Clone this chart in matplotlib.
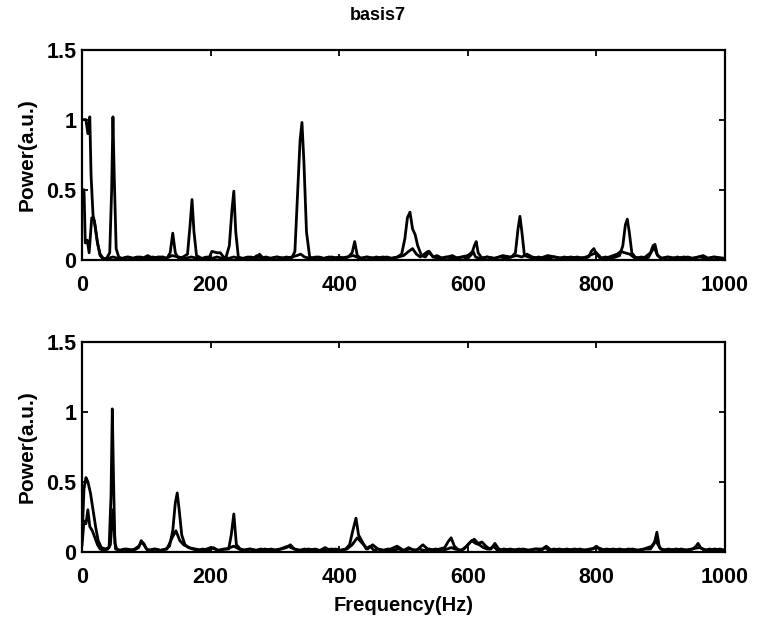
import matplotlib
matplotlib.use("Agg")
import matplotlib.pyplot as plt

# top panel, first spectrum (main peaks)
top_f1 = [0, 6, 9, 12, 14, 17, 20, 24, 28, 33,
          38, 43, 46, 48, 50, 53, 57, 62, 70, 78,
          86, 94, 102, 110, 118, 126, 132, 137, 141, 145,
          150, 157, 164, 168, 171, 174, 178, 186, 194, 202,
          210, 218, 224, 229, 233, 236, 239, 243, 250, 258,
          266, 272, 278, 286, 294, 302, 310, 318, 326, 331,
          335, 339, 342, 345, 349, 354, 360, 368, 376, 384,
          392, 400, 408, 414, 420, 424, 428, 434, 442, 450,
          458, 466, 474, 482, 490, 497, 502, 506, 510, 514,
          518, 522, 528, 534, 540, 546, 552, 560, 568, 576,
          584, 592, 600, 606, 610, 613, 616, 622, 630, 640,
          650, 660, 668, 674, 678, 681, 684, 688, 694, 702,
          710, 718, 726, 734, 742, 750, 760, 770, 780, 788,
          792, 796, 800, 806, 814, 822, 830, 836, 841, 845,
          848, 851, 855, 860, 868, 876, 884, 888, 891, 895,
          902, 910, 918, 926, 934, 942, 950, 958, 966, 974,
          982, 990, 1000]
top_p1 = [1.0, 1.0, 0.9, 1.02, 0.6, 0.32, 0.25, 0.12, 0.04, 0.01,
          0.01, 0.05, 0.5, 1.02, 0.6, 0.08, 0.02, 0.01, 0.02, 0.01,
          0.02, 0.01, 0.03, 0.01, 0.02, 0.02, 0.01, 0.05, 0.19, 0.05,
          0.01, 0.02, 0.04, 0.25, 0.43, 0.2, 0.03, 0.01, 0.02, 0.01,
          0.02, 0.01, 0.02, 0.1, 0.35, 0.49, 0.2, 0.02, 0.01, 0.02,
          0.01, 0.03, 0.01, 0.02, 0.01, 0.02, 0.01, 0.02, 0.01, 0.06,
          0.45, 0.85, 0.98, 0.7, 0.2, 0.02, 0.01, 0.02, 0.01, 0.02,
          0.01, 0.02, 0.01, 0.02, 0.05, 0.13, 0.03, 0.01, 0.02, 0.01,
          0.02, 0.01, 0.02, 0.01, 0.02, 0.04, 0.15, 0.3, 0.34, 0.22,
          0.18, 0.1, 0.03, 0.02, 0.06, 0.02, 0.03, 0.01, 0.02, 0.03,
          0.01, 0.02, 0.01, 0.04, 0.1, 0.13, 0.05, 0.01, 0.02, 0.01,
          0.02, 0.01, 0.02, 0.05, 0.22, 0.31, 0.2, 0.03, 0.02, 0.01,
          0.02, 0.01, 0.01, 0.02, 0.01, 0.02, 0.01, 0.02, 0.01, 0.02,
          0.06, 0.08, 0.04, 0.01, 0.02, 0.01, 0.02, 0.03, 0.1, 0.25,
          0.29, 0.2, 0.05, 0.02, 0.01, 0.02, 0.05, 0.1, 0.11, 0.03,
          0.01, 0.02, 0.01, 0.02, 0.01, 0.02, 0.01, 0.02, 0.03, 0.01,
          0.02, 0.01, 0.01]

# top panel, second spectrum
top_f2 = [0, 3, 5, 8, 11, 15, 19, 24, 28, 34, 40, 48, 56, 64, 72, 80, 90, 100, 110, 120,
          130, 140, 150, 160, 170, 180, 190, 198, 202, 210, 215, 220, 228, 236, 244, 252, 262, 272, 276, 282,
          292, 304, 316, 326, 334, 340, 346, 354, 364, 376, 388, 400, 412, 422, 432, 444, 456, 468, 480, 492,
          500, 508, 514, 520, 526, 532, 538, 546, 556, 566, 578, 590, 600, 608, 612, 618, 630, 642, 654, 666,
          676, 684, 692, 700, 712, 724, 736, 748, 760, 772, 784, 794, 800, 808, 820, 832, 838, 844, 852, 860,
          870, 880, 886, 890, 894, 900, 912, 924, 936, 948, 960, 972, 984, 1000]
top_p2 = [0.5, 0.5, 0.12, 0.14, 0.05, 0.3, 0.28, 0.12, 0.03, 0.0, 0.01, 0.02, 0.01, 0.01, 0.02, 0.01, 0.02, 0.01, 0.02, 0.01,
          0.01, 0.03, 0.02, 0.01, 0.02, 0.01, 0.01, 0.02, 0.06, 0.05, 0.05, 0.02, 0.01, 0.02, 0.01, 0.01, 0.02, 0.01, 0.04, 0.01,
          0.01, 0.02, 0.01, 0.02, 0.03, 0.04, 0.02, 0.01, 0.02, 0.01, 0.02, 0.01, 0.02, 0.03, 0.01, 0.02, 0.01, 0.02, 0.01, 0.02,
          0.03, 0.06, 0.08, 0.04, 0.02, 0.04, 0.06, 0.02, 0.01, 0.02, 0.01, 0.02, 0.03, 0.06, 0.02, 0.01, 0.02, 0.01, 0.03, 0.02,
          0.03, 0.02, 0.04, 0.02, 0.01, 0.03, 0.02, 0.01, 0.02, 0.01, 0.02, 0.04, 0.05, 0.01, 0.02, 0.04, 0.06, 0.05, 0.04, 0.01,
          0.02, 0.01, 0.06, 0.09, 0.04, 0.01, 0.02, 0.01, 0.02, 0.01, 0.02, 0.01, 0.02, 0.01]

# bottom panel, first spectrum
bot_f1 = [0, 3, 6, 9, 13, 17, 21, 25, 30, 36,
          42, 45, 47, 49, 51, 54, 58, 66, 74, 82,
          88, 93, 96, 100, 106, 114, 122, 130, 136, 141,
          145, 148, 151, 155, 160, 166, 172, 180, 188, 196,
          204, 212, 220, 228, 232, 236, 240, 246, 254, 262,
          270, 278, 286, 294, 302, 310, 318, 324, 330, 338,
          346, 354, 362, 370, 378, 386, 394, 402, 410, 416,
          421, 426, 430, 436, 442, 448, 454, 460, 468, 476,
          484, 492, 500, 508, 516, 524, 532, 540, 548, 556,
          564, 569, 574, 579, 586, 594, 600, 606, 612, 618,
          624, 630, 636, 642, 648, 656, 666, 676, 686, 696,
          706, 714, 720, 726, 734, 744, 754, 764, 774, 784,
          794, 800, 806, 816, 826, 836, 846, 856, 866, 876,
          884, 890, 894, 898, 904, 912, 922, 932, 942, 950,
          955, 958, 962, 968, 976, 984, 992, 1000]
bot_p1 = [0.1, 0.45, 0.53, 0.5, 0.42, 0.3, 0.18, 0.08, 0.03, 0.02,
          0.03, 0.4, 1.02, 0.5, 0.06, 0.02, 0.01, 0.02, 0.01, 0.02,
          0.04, 0.07, 0.06, 0.02, 0.01, 0.02, 0.01, 0.02, 0.04, 0.15,
          0.35, 0.42, 0.3, 0.12, 0.05, 0.03, 0.02, 0.01, 0.02, 0.01,
          0.03, 0.01, 0.02, 0.02, 0.12, 0.27, 0.05, 0.02, 0.01, 0.02,
          0.01, 0.02, 0.01, 0.02, 0.01, 0.02, 0.03, 0.05, 0.02, 0.01,
          0.02, 0.01, 0.02, 0.01, 0.03, 0.01, 0.02, 0.01, 0.02, 0.05,
          0.15, 0.24, 0.12, 0.07, 0.02, 0.04, 0.01, 0.02, 0.01, 0.02,
          0.01, 0.02, 0.01, 0.03, 0.01, 0.02, 0.01, 0.02, 0.01, 0.02,
          0.03, 0.07, 0.1, 0.04, 0.01, 0.02, 0.05, 0.08, 0.06, 0.05,
          0.03, 0.02, 0.02, 0.06, 0.02, 0.01, 0.02, 0.01, 0.02, 0.01,
          0.02, 0.01, 0.03, 0.01, 0.02, 0.01, 0.02, 0.01, 0.02, 0.01,
          0.02, 0.04, 0.01, 0.02, 0.01, 0.02, 0.01, 0.02, 0.01, 0.02,
          0.02, 0.06, 0.14, 0.03, 0.01, 0.02, 0.01, 0.02, 0.01, 0.02,
          0.04, 0.06, 0.03, 0.01, 0.02, 0.01, 0.02, 0.01]

# bottom panel, second spectrum
bot_f2 = [0, 3, 6, 9, 12, 16, 20, 24, 28, 34, 40, 44, 48, 52, 60, 70, 80, 88, 92, 96,
          102, 112, 122, 132, 140, 146, 152, 158, 166, 176, 188, 200, 212, 224, 236, 248, 260, 272, 284, 296,
          308, 320, 330, 340, 352, 364, 376, 388, 400, 412, 420, 428, 436, 444, 452, 460, 470, 480, 490, 500,
          510, 520, 530, 540, 550, 560, 568, 574, 580, 590, 598, 604, 610, 616, 622, 628, 634, 640, 646, 656,
          668, 680, 692, 704, 716, 722, 730, 742, 754, 766, 778, 790, 802, 814, 826, 838, 850, 862, 874, 886,
          892, 900, 912, 924, 936, 948, 960, 972, 984, 1000]
bot_p2 = [0.05, 0.22, 0.2, 0.3, 0.18, 0.15, 0.1, 0.05, 0.02, 0.01, 0.02, 0.05, 0.3, 0.02, 0.01, 0.02, 0.01, 0.03, 0.08, 0.05,
          0.01, 0.02, 0.01, 0.02, 0.1, 0.15, 0.08, 0.05, 0.03, 0.02, 0.01, 0.03, 0.01, 0.02, 0.04, 0.01, 0.02, 0.01, 0.02, 0.01,
          0.02, 0.04, 0.02, 0.01, 0.02, 0.01, 0.01, 0.02, 0.01, 0.02, 0.05, 0.1, 0.06, 0.02, 0.05, 0.02, 0.01, 0.02, 0.04, 0.01,
          0.02, 0.01, 0.05, 0.01, 0.02, 0.01, 0.02, 0.03, 0.02, 0.01, 0.04, 0.07, 0.09, 0.06, 0.07, 0.04, 0.02, 0.04, 0.01, 0.02,
          0.01, 0.02, 0.01, 0.02, 0.02, 0.04, 0.01, 0.02, 0.01, 0.02, 0.01, 0.02, 0.03, 0.01, 0.02, 0.01, 0.02, 0.01, 0.02, 0.04,
          0.08, 0.02, 0.01, 0.02, 0.01, 0.02, 0.03, 0.01, 0.02, 0.01]

xticks = [0, 200, 400, 600, 800, 1000]
yticks = [0, 0.5, 1, 1.5]
ytick_labels = ["0", "0.5", "1", "1.5"]

plt.rcParams['font.family'] = ['Liberation Sans', 'DejaVu Sans']
plt.rcParams['font.weight'] = 'bold'

fig = plt.figure(figsize=(7.6, 6.2), dpi=100)
ax1 = fig.add_axes([0.108, 0.581, 0.846, 0.339])
ax2 = fig.add_axes([0.108, 0.110, 0.846, 0.339])

for ax, series in ((ax1, [(top_f1, top_p1), (top_f2, top_p2)]),
                   (ax2, [(bot_f1, bot_p1), (bot_f2, bot_p2)])):
    for f, p in series:
        ax.plot(f, p, color='black', lw=2.0)
    ax.set_xlim(0, 1000)
    ax.set_ylim(0, 1.5)
    ax.set_xticks(xticks)
    ax.set_yticks(yticks)
    ax.set_yticklabels(ytick_labels)
    ax.tick_params(direction='in', top=True, right=True, length=4, width=1.3,
                   labelsize=15.5)
    ax.tick_params(axis='x', pad=11)
    ax.tick_params(axis='y', pad=4)
    for s in ax.spines.values():
        s.set_linewidth(1.6)
    ax.set_ylabel('Power(a.u.)', fontsize=15, fontweight='bold', labelpad=7)

fig.text(378 / 760, 1 - 15 / 620, 'basis7', fontsize=13, fontweight='bold',
         ha='center', va='center')
ax2.set_xlabel('Frequency(Hz)', fontsize=14.5, fontweight='bold', labelpad=6)

fig.savefig('out.png', dpi=100)
